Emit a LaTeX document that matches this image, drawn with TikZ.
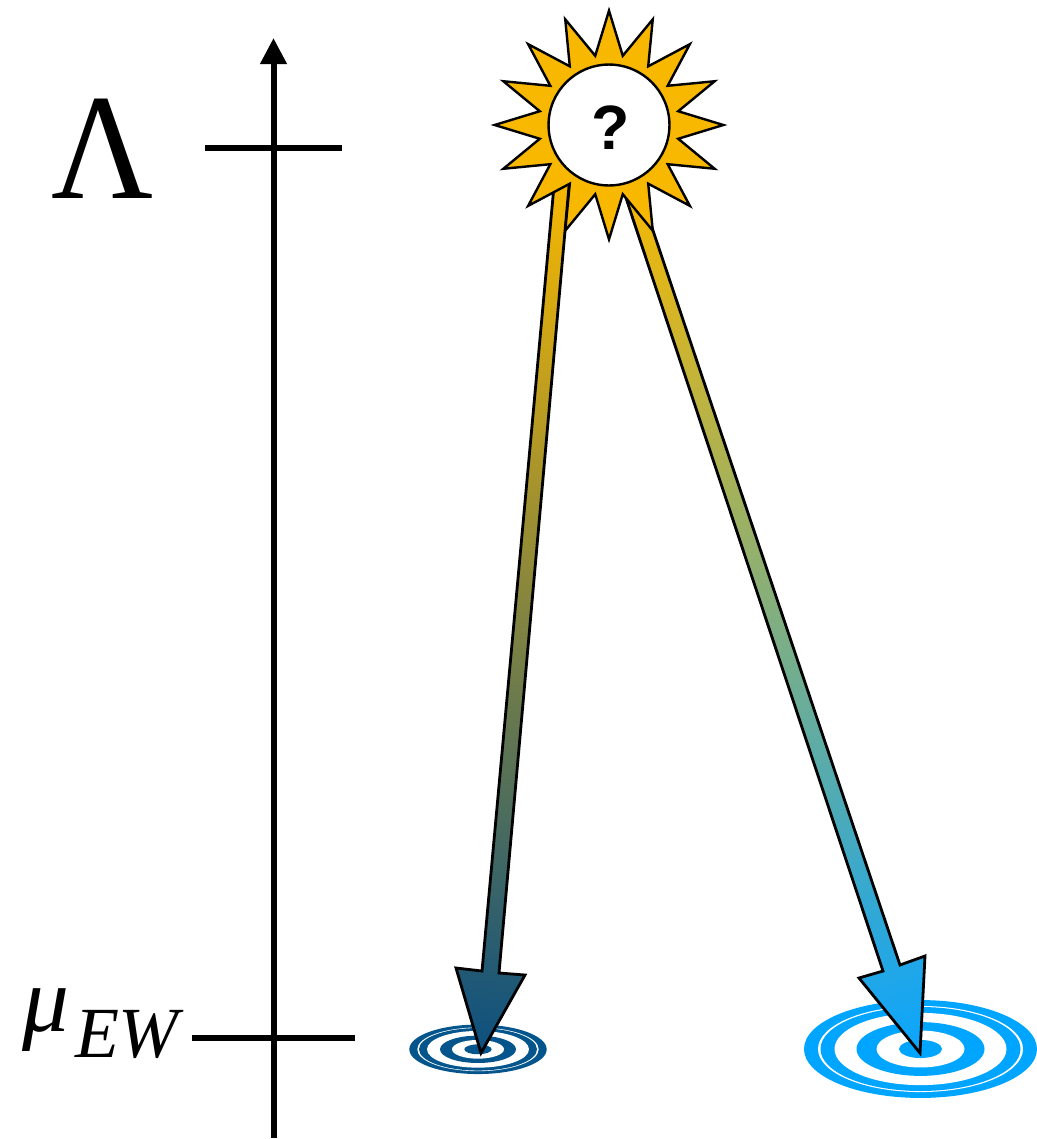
\documentclass[tikz,border=0pt]{standalone}
\usepackage{fontspec}
\usepackage{graphicx}
\setmainfont{Liberation Serif}
\newfontfamily\qfont{Liberation Sans}
\usetikzlibrary{arrows.meta,shapes.geometric}
\definecolor{sunc}{HTML}{F9B800}
\definecolor{deepb}{HTML}{0C5080}
\definecolor{ringd}{HTML}{03558C}
\definecolor{skyb}{HTML}{0AA5FF}
\definecolor{ringl}{HTML}{00A5FF}
\tikzset{
  axisline/.style={line width=4.5pt},
  tickline/.style={line width=3.9pt},
  flow/.style={draw=black,line width=2.1pt,line join=miter},
  lbl/.style={inner sep=0pt,outer sep=0pt,anchor=base west,text=black},
  sunstroke/.style={draw=black,line width=1.8pt},
}
\begin{document}
\begin{tikzpicture}[x=0.75pt,y=-0.75pt]
\useasboundingbox (0,0) rectangle (1036,1139);
% scale axis
\coordinate (abot) at (273.5,1138);
\coordinate (atop) at (273.5,38);
\draw[axisline,-{Triangle[length=19.5pt,width=19pt]}] (abot) -- (atop);
\coordinate (lamL) at (205,148); \coordinate (lamR) at (342,148);
\coordinate (ewL) at (192,1038); \coordinate (ewR) at (355,1038);
\draw[tickline] (lamL) -- (lamR);
\draw[tickline] (ewL) -- (ewR);
% labels
\node[lbl,font=\fontsize{113}{113}\selectfont] (lam) at (51,198) {\scalebox{0.935}[1]{Λ}};
\node[lbl,font=\fontsize{70}{70}\selectfont\itshape] (mu) at (22,1031) {μ};
\node[lbl,font=\fontsize{54}{54}\selectfont\itshape] (ew) at (75,1057) {EW};
% targets
\coordinate (tl) at (478,1049.3);
\foreach \r/\c in {68.7/ringd,60.7/white,59/ringd,51/white,38/ringd,26/white,13.7/ringd}
  \fill[\c] (tl) ellipse [x radius=\r*1,y radius=\r*0.36];
\coordinate (tr) at (920.5,1049);
\foreach \r/\c in {116.5/ringl,102.5/white,100/ringl,86/white,64/ringl,44/white,21.5/ringl}
  \fill[\c] (tr) ellipse [x radius=\r*1,y radius=\r*0.42];
% gradient arrows: shaded along their own axis
\coordinate (ltail) at (562,175);
\begin{scope}
  \clip (555,175) -- (482,971) -- (456,968) -- (481,1053) -- (525,975) -- (499,973) -- (570,175) -- cycle;
  \shade[top color=sunc,bottom color=deepb,transform canvas={rotate around={-5.27:(ltail)}}]
    (362,175) rectangle (762,1056.7);
\end{scope}
\draw[flow] (555,175) -- (482,971) -- (456,968) -- (481,1053) -- (525,975) -- (499,973) -- (570,175) -- cycle;
\coordinate (rtail) at (628,180);
\begin{scope}
  \clip (620,180) -- (883,971) -- (859,978) -- (920,1053) -- (925,956) -- (900,965) -- (636,180) -- cycle;
  \shade[top color=sunc,bottom color=skyb,transform canvas={rotate around={18.5:(rtail)}}]
    (428,180) rectangle (828,1100.5);
\end{scope}
\draw[flow] (620,180) -- (883,971) -- (859,978) -- (920,1053) -- (925,956) -- (900,965) -- (636,180) -- cycle;
% sun
\node[star,star points=16,star point ratio=1.62,minimum size=171.5pt,inner sep=0pt,
  sunstroke,fill=sunc] (sun) at (609,125) {};
\node[circle,sunstroke,fill=white,minimum size=90.7pt,inner sep=0pt] (core) at (609,125) {};
\node[lbl,font=\fontsize{47}{47}\selectfont\qfont\bfseries] (q) at (591,149) {?};
\end{tikzpicture}
\end{document}
